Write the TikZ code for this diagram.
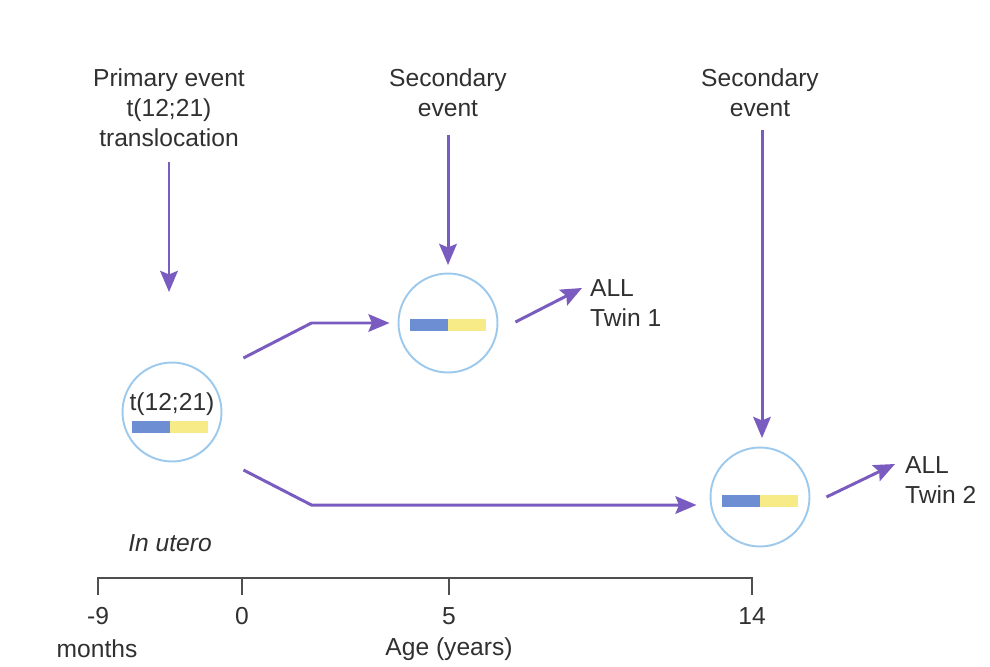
\documentclass[tikz,border=0pt]{standalone}
\usepackage{fontspec}
\setmainfont{Liberation Sans}
\usetikzlibrary{arrows.meta,positioning,calc}
\definecolor{evtpurple}{HTML}{7A5CC0}
\definecolor{cellblue}{HTML}{9CC9EC}
\definecolor{barblue}{HTML}{6E8ED4}
\definecolor{baryellow}{HTML}{F7EB88}
\definecolor{txtgray}{HTML}{303030}
\newcommand{\fusionbar}[1]{%
  \fill[barblue] ($(#1)+(-38,-6)$) rectangle ($(#1)+(0,6)$);
  \fill[baryellow] ($(#1)+(0,-6)$) rectangle ($(#1)+(38,6)$);}
\tikzset{
  cell/.style={circle,draw=cellblue,line width=1.1pt,minimum size=1.98cm,inner sep=0pt},
  evt arrow/.style={draw=evtpurple,line width=1.7pt,
    -{Stealth[length=12pt,width=10pt,inset=2pt]}},
  lbl/.style={text=txtgray,font=\fontsize{14}{17}\selectfont,align=center,inner sep=1pt},
  axis line/.style={draw=txtgray!85,line width=0.8pt}
}

\begin{document}
\begin{tikzpicture}[x=0.02cm,y=-0.02cm]
  \useasboundingbox (0,0) rectangle (990,666);

  % cells
  \node[cell] (early) at (172,412) {};
  \node[cell] (mid) at (448,323) {};
  \node[cell] (late) at (760,497) {};
  \node[lbl] (fusion) at (172,404) {t(12;21)};
  \coordinate (barA) at (170,427);
  \coordinate (barB) at (448,325);
  \coordinate (barC) at (760,501);
  \fusionbar{barA}
  \fusionbar{barB}
  \fusionbar{barC}

  % event labels
  \node[lbl] (primary) at (169,108) {Primary event\\t(12;21)\\translocation};
  \node[lbl] (second1) at (448,93) {Secondary\\event};
  \node[lbl] (second2) at (760,93) {Secondary\\event};
  \node[lbl,align=left,anchor=west] (twin1) at (588,303) {ALL\\Twin 1};
  \node[lbl,align=left,anchor=west] (twin2) at (903,480) {ALL\\Twin 2};
  \node[lbl,font=\fontsize{14}{17}\selectfont\itshape] (utero) at (170,543) {In utero};

  \coordinate (hitA) at (169,292);
  \coordinate (hitB) at (448,265);
  \coordinate (hitC) at (762,438);
  \draw[evt arrow] (hitA |- 0,162) -- (hitA);
  \draw[evt arrow] (hitB |- 0,135) -- (hitB);
  \draw[evt arrow] (hitC |- 0,130) -- (hitC);

  \draw[evt arrow] ($(early.east)+(21,-54)$) -- ++(68,-35) -- ($(mid.west)+(-8,0)$);
  \draw[evt arrow] ($(early.east)+(21,58)$) -- ++(68,35) -- ($(late.west)+(-13,8)$);
  \draw[evt arrow] ($(mid.east)+(17,-1)$) -- ($(twin1.west)+(-6,-15)$);
  \draw[evt arrow] ($(late.east)+(16,0)$) -- ($(twin2.west)+(-8,-16)$);

  % age axis
  \draw[axis line] (98,595) -- (98,578) -- (752,578) -- (752,595);
  \foreach \x/\lab in {98/-9,242/0,449/5,752/14} {
    \draw[axis line] (\x,578) -- (\x,595);
    \node[lbl] (tick\lab) at (\x,616) {\lab};
  }
  \node[lbl] (months) at (97,649) {months};
  \node[lbl] (age) at (449,649) {Age (years)};
\end{tikzpicture}
\end{document}
